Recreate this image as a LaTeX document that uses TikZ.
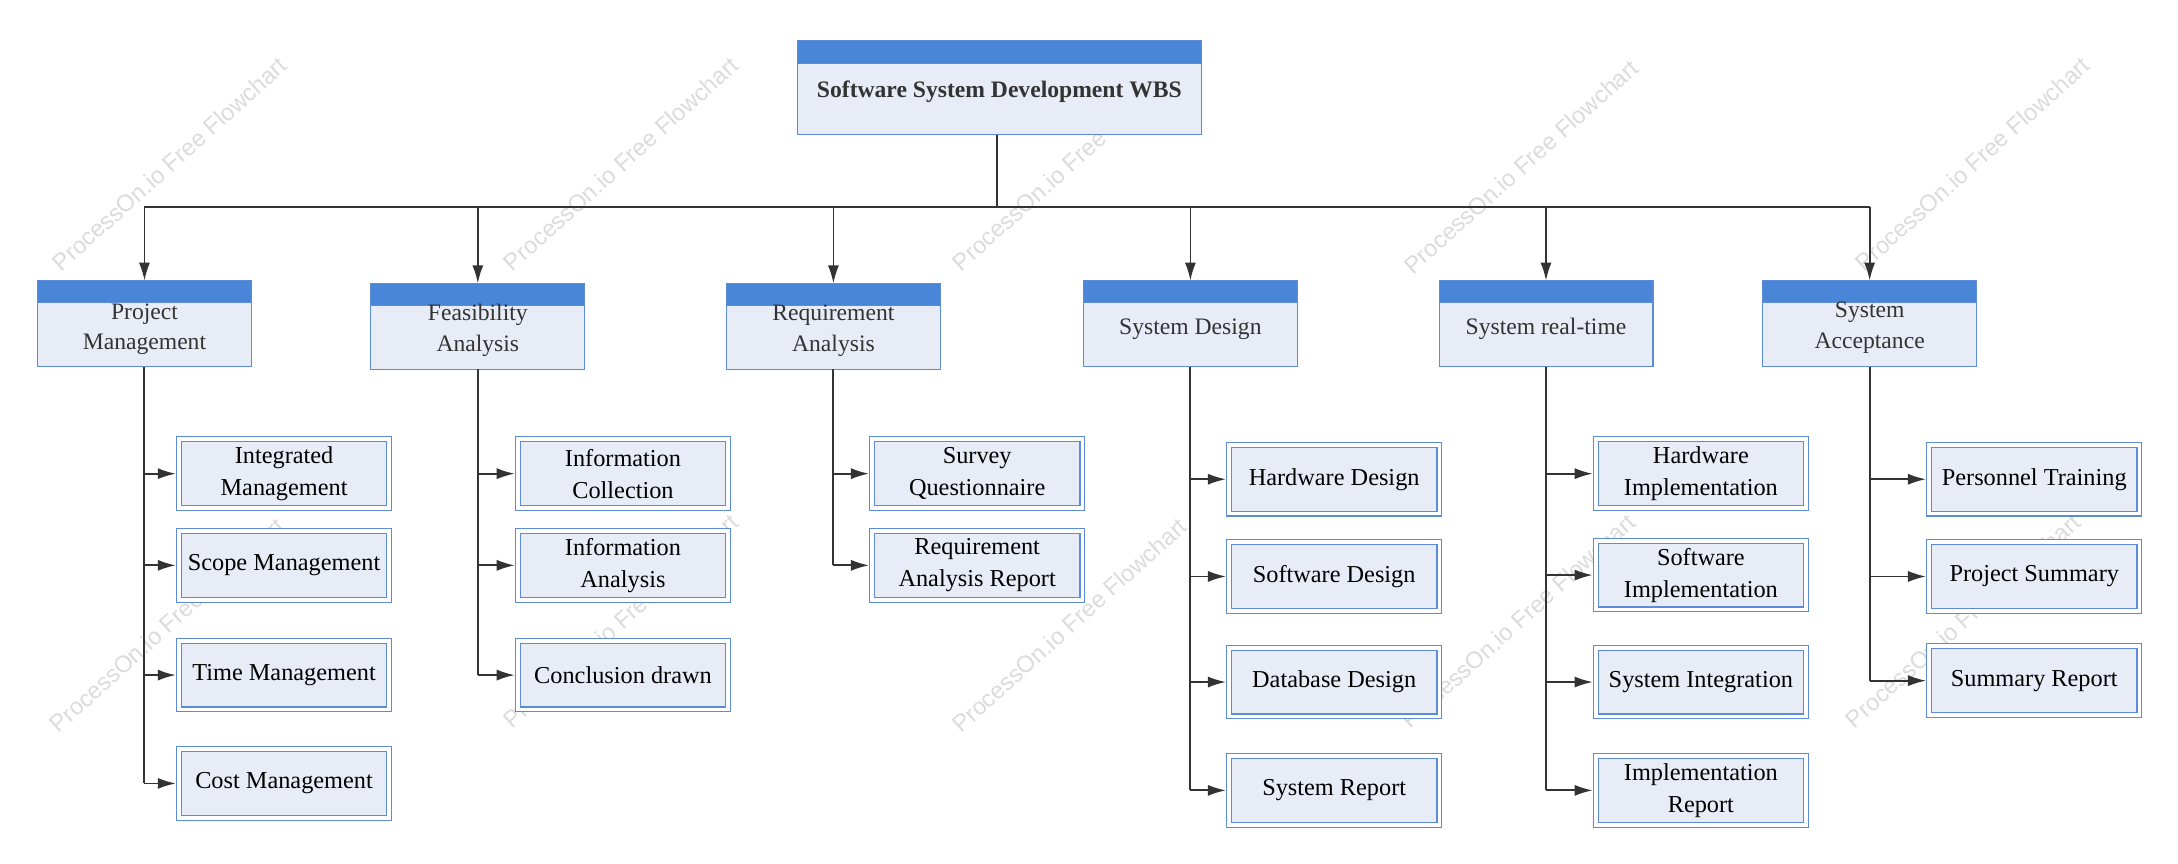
\documentclass[tikz,border=0pt]{standalone}
\usepackage{fontspec}
\setmainfont{Liberation Serif}
\newfontfamily\wmfont{Liberation Sans}
\usetikzlibrary{arrows.meta}
\definecolor{hdr}{HTML}{4A86D8}
\definecolor{bdy}{HTML}{E8ECF7}
\definecolor{brd}{HTML}{5B8BD9}
\definecolor{ln}{HTML}{333333}
\begin{document}
\begin{tikzpicture}[x=1pt,y=-1pt,
  hdrbox/.style={fill=hdr,draw=brd,line width=0.8pt},
  bodybox/.style={fill=bdy,draw=brd,line width=0.8pt},
  top/.style={font=\fontsize{17}{20}\selectfont\bfseries,text=ln},
  lvl/.style={font=\fontsize{17}{22}\selectfont,text=ln,align=center},
  leaf/.style={draw=brd,line width=0.8pt,fill=white,minimum width=155pt,minimum height=53pt,inner sep=0pt,
     path picture={\fill[bdy,draw=brd,line width=0.8pt] ([shift={(3.5pt,-3.5pt)}]path picture bounding box.north west) rectangle ([shift={(-3.5pt,3.5pt)}]path picture bounding box.south east);},
     font=\fontsize{17.5}{23}\selectfont,align=center,text=black},
  conn/.style={draw=ln,line width=1.6pt},
  arr/.style={draw=ln,line width=1.3pt,-{Latex[length=13pt,width=8pt]}},
  wm/.style={font=\wmfont\fontsize{17}{17}\selectfont,text=black!14,rotate=42}]
\useasboundingbox (0,0) rectangle (1568,622);
% watermarks
\foreach \x/\y [count=\i] in {122/118,447/118,770/118,1095/120,1420/118,120/450,447/447,770/450,1093/447,1413/447}
  \node[wm] (wm\i) at (\x,\y) {ProcessOn.io Free Flowchart};
% root
\fill[hdrbox] (574,29) rectangle (865,46);
\filldraw[bodybox] (574,46) rectangle (865,97);
\node[top] (root) at (719.5,66) {Software System Development WBS};
\coordinate (rb) at (718,97);
\coordinate (rj) at (718,149);
\draw[conn] (rb) -- (rj);
% level 1
\foreach \n/\x/\yt/\txt/\ty in {pm/104/202/{Project\\Management}/237,
  fa/344/204/{Feasibility\\Analysis}/238,
  ra/600/204/{Requirement\\Analysis}/238,
  sd/857/202/{System Design}/237,
  sr/1113/202/{System real-time}/237,
  sa/1346/202/{System\\Acceptance}/236}{
  \filldraw[hdrbox] (\x-77,\yt) rectangle (\x+77,\yt+16);
  \filldraw[bodybox] (\x-77,\yt+16) rectangle (\x+77,\yt+62);
  \coordinate (\n top) at (\x,\yt);
  \coordinate (\n bot) at (\x,\yt+62);
  \coordinate (\n j) at (\x,149);
  \node[lvl] (\n) at (\x,\ty) {\txt};
}
\draw[conn,line width=1.4pt] (pmj) -- (saj);
\foreach \n in {pm,fa,ra,sd,sr,sa} \draw[arr] (\n j) -- (\n top);
% leaves
\newcommand\leafs[4]{% name, x-trunk, x-left, list
  \foreach \k/\yy/\txt in {#4}{
    \node[leaf] (#1\k) at (#3+77.5,\yy) {\txt};
    \coordinate (#1c\k) at (#2,\yy);
    \draw[arr] (#1c\k) -- (#1\k.west);
  }}
\leafs{pm}{104}{127}{1/341/{Integrated\\Management},2/407/{Scope Management},3/486/{Time Management},4/564/{Cost Management}}
\leafs{fa}{344}{371}{1/341/{Information\\Collection},2/407/{Information\\Analysis},3/486/{Conclusion drawn}}
\leafs{ra}{600}{626}{1/341/{Survey\\Questionnaire},2/407/{Requirement\\Analysis Report}}
\leafs{sd}{857}{883}{1/345/{Hardware Design},2/415/{Software Design},3/491/{Database Design},4/569/{System Report}}
\leafs{sr}{1113}{1147}{1/341/{Hardware\\Implementation},2/414/{Software\\Implementation},3/491/{System Integration},4/569/{Implementation\\Report}}
\leafs{sa}{1346}{1387}{1/345/{Personnel Training},2/415/{Project Summary},3/490/{Summary Report}}
\draw[conn,line width=1.4pt] (pmbot) -- (pmc4);
\draw[conn,line width=1.4pt] (fabot) -- (fac3);
\draw[conn,line width=1.4pt] (rabot) -- (rac2);
\draw[conn,line width=1.4pt] (sdbot) -- (sdc4);
\draw[conn,line width=1.4pt] (srbot) -- (src4);
\draw[conn,line width=1.4pt] (sabot) -- (sac3);
\end{tikzpicture}
\end{document}
